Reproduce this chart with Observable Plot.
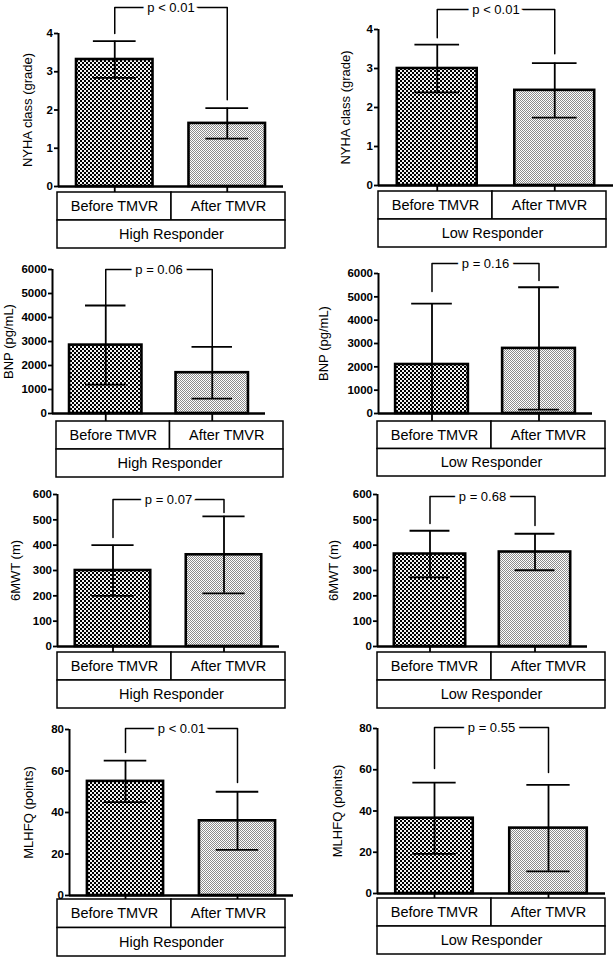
<!DOCTYPE html>
<html>
<head>
<meta charset="utf-8">
<script src="https://cdn.jsdelivr.net/npm/d3@7"></script>
<script src="https://cdn.jsdelivr.net/npm/@observablehq/plot@0.6"></script>
<style>
  html, body { margin: 0; padding: 0; background: white; }
  #root { position: relative; width: 614px; height: 959px; overflow: hidden; font-family: "Liberation Sans", Arial, sans-serif; }
</style>
</head>
<body>
<svg width="0" height="0" style="position:absolute">
  <defs>
    <pattern id="patBefore" patternUnits="userSpaceOnUse" width="4" height="4">
      <rect x="0" y="0" width="4" height="4" fill="#f4f4f4"></rect>
      <rect x="0" y="0" width="2" height="2" fill="#000"></rect>
      <rect x="2" y="2" width="2" height="2" fill="#000"></rect>
    </pattern>
    <pattern id="patAfter" patternUnits="userSpaceOnUse" width="2" height="2">
      <rect x="0" y="0" width="2" height="2" fill="#fff"></rect>
      <rect x="0" y="0" width="1" height="1" fill="#8c8c8c"></rect>
      <rect x="1" y="1" width="1" height="1" fill="#8c8c8c"></rect>
    </pattern>
  </defs>
</svg>
<div id="root"></div>
<script>
// ---------------- data ----------------
const phases = ["Before TMVR", "After TMVR"];
const groups = ["High Responder", "Low Responder"];
const measures = ["NYHA class (grade)", "BNP (pg/mL)", "6MWT (m)", "MLHFQ (points)"];
const yTicks = [
  [0, 1, 2, 3, 4],
  [0, 1000, 2000, 3000, 4000, 5000, 6000],
  [0, 100, 200, 300, 400, 500, 600],
  [0, 20, 40, 60, 80]
];
const meanHigh = [[3.32, 1.65], [2850, 1700], [300, 362], [55, 36]];
const sdHigh   = [[0.48, 0.40], [1650, 1080], [100, 152], [10, 14]];
const meanLow  = [[3.0, 2.44], [2100, 2790], [365, 373], [36.5, 31.7]];
const sdLow    = [[0.61, 0.70], [2610, 2620], [92, 72], [17.3, 21]];
const pHigh = ["p < 0.01", "p = 0.06", "p = 0.07", "p < 0.01"];
const pLow  = ["p < 0.01", "p = 0.16", "p = 0.68", "p = 0.55"];
// bracket: [top, left leg end, right leg end] in data units
const bracketHigh = [[4.68, 4.0, 2.27], [6000, 4500, 2790], [580, 430, 529], [80.5, 68.9, 54.5]];
const bracketLow  = [[4.51, 3.79, 3.38], [6430, 5230, 5700], [592, 486, 478], [80.5, 60.6, 58.7]];

// ---------------- layout (pixels) ----------------
const colLeft = [0, 300];
const colWidth = [300, 314];
const rowTop = [0, 250, 480, 712];
const layout = [
  [ {axisX:58, right:283, yTop:33,  y0:186, tTop:192, tBot:248, tLeft:57, tRight:285, labelOff:31},
    {axisX:378, right:613, yTop:29, y0:185, tTop:191, tBot:247, tLeft:378, tRight:606, labelOff:33} ],
  [ {axisX:52, right:265, yTop:269, y0:413, tTop:421, tBot:477, tLeft:56, tRight:283, labelOff:44},
    {axisX:378, right:592, yTop:273, y0:413, tTop:421, tBot:476, tLeft:377, tRight:605, labelOff:55} ],
  [ {axisX:57, right:279, yTop:494, y0:646, tTop:652, tBot:708, tLeft:57, tRight:285, labelOff:42},
    {axisX:377, right:587, yTop:494, y0:646, tTop:652, tBot:708, tLeft:377, tRight:605, labelOff:44} ],
  [ {axisX:69, right:293, yTop:729, y0:895, tTop:899, tBot:956, tLeft:57, tRight:285, labelOff:41},
    {axisX:377, right:605, yTop:728, y0:893, tTop:898, tBot:954, tLeft:377, tRight:605, labelOff:40} ]
];

const FONT = '"Liberation Sans", Arial, Helvetica, sans-serif';
const root = document.getElementById("root");
const patterns = ["url(#patBefore)", "url(#patAfter)"];
const BAR_HALF = 0.34, CAP_HALF = 0.19;

function place(svg, left, top) {
  svg.style.position = "absolute";
  svg.style.left = left + "px";
  svg.style.top = top + "px";
  svg.style.background = "transparent";
  svg.style.overflow = "visible";
  svg.style.fontFamily = FONT;
  svg.style.maxWidth = "none";
  root.appendChild(svg);
}

for (let r = 0; r < 4; r++) {
  for (let c = 0; c < 2; c++) {
    const L = layout[r][c];
    const means = (c === 0 ? meanHigh : meanLow)[r];
    const sds = (c === 0 ? sdHigh : sdLow)[r];
    const pText = (c === 0 ? pHigh : pLow)[r];
    const br = (c === 0 ? bracketHigh : bracketLow)[r];
    const ticks = yTicks[r];
    const yMax = ticks[ticks.length - 1];

    const rows = phases.map((ph, i) => ({
      phase: ph, i, cx: i + 0.5,
      mean: means[i], hi: means[i] + sds[i], lo: means[i] - sds[i]
    }));

    const top = rowTop[r];
    const tickLen = L.tTop - L.y0;
    const mBottom = tickLen;
    const width = colWidth[c];
    const height = L.y0 - top + mBottom;

    const marks = [];
    // bars
    rows.forEach((d, i) => {
      marks.push(Plot.rectY([d], {
        x1: d => d.cx - BAR_HALF, x2: d => d.cx + BAR_HALF, y1: 0, y2: "mean",
        fill: patterns[i], stroke: "black", strokeWidth: 2.6
      }));
    });
    // error bars
    marks.push(Plot.ruleX(rows, {x: "cx", y1: d => Math.max(0, d.lo), y2: "hi", stroke: "black", strokeWidth: 1.8}));
    marks.push(Plot.ruleY(rows, {y: "hi", x1: d => d.cx - CAP_HALF, x2: d => d.cx + CAP_HALF, stroke: "black", strokeWidth: 1.8}));
    marks.push(Plot.ruleY(rows.filter(d => d.lo >= 0), {y: "lo", x1: d => d.cx - CAP_HALF, x2: d => d.cx + CAP_HALF, stroke: "black", strokeWidth: 1.8}));
    // axes
    marks.push(Plot.ruleX([0], {y1: 0, y2: yMax, stroke: "black", strokeWidth: 2}));
    marks.push(Plot.ruleY([0], {stroke: "black", strokeWidth: 2.6}));
    marks.push(Plot.axisY({ticks, tickSize: 4, tickPadding: 1.5, tickFormat: d => String(d),
      fontSize: 11.5, fontWeight: "bold", strokeWidth: 1.8, label: null}));
    marks.push(Plot.axisX({ticks: rows.map(d => d.cx), tickSize: tickLen, tickFormat: () => "",
      strokeWidth: 1.8, label: null}));
    // y label
    marks.push(Plot.text([measures[r]], {text: d => d, frameAnchor: "left", dx: -L.labelOff,
      rotate: -90, textAnchor: "middle", lineAnchor: "middle", fontSize: 13, fill: "black"}));
    // significance bracket
    const bracket = [
      {x: rows[0].cx, y: br[1]}, {x: rows[0].cx, y: br[0]},
      {x: rows[1].cx, y: br[0]}, {x: rows[1].cx, y: br[2]}
    ];
    marks.push(Plot.line(bracket, {x: "x", y: "y", stroke: "black", strokeWidth: 1.5}));
    marks.push(Plot.text([pText], {text: d => d, x: 1, y: br[0], fontSize: 13, fill: "black",
      stroke: "white", strokeWidth: 9}));

    const chart = Plot.plot({
      width, height,
      marginLeft: L.axisX - colLeft[c],
      marginRight: colLeft[c] + width - L.right,
      marginTop: L.yTop - top,
      marginBottom: mBottom,
      x: {type: "linear", domain: [0, 2]},
      y: {type: "linear", domain: [0, yMax]},
      marks
    });
    place(chart, colLeft[c], top);

    // category table below the axis
    const cells = [
      {x1: 0, x2: 1, y1: 0, y2: 1, text: phases[0], tx: 0.5, ty: 0.5},
      {x1: 1, x2: 2, y1: 0, y2: 1, text: phases[1], tx: 1.5, ty: 0.5},
      {x1: 0, x2: 2, y1: 1, y2: 2, text: groups[c], tx: 1, ty: 1.5}
    ];
    const tTopSvg = L.tTop - 2;
    const tHeight = L.tBot - L.tTop + 4;
    const table = Plot.plot({
      width, height: tHeight,
      marginLeft: L.tLeft - colLeft[c],
      marginRight: colLeft[c] + width - L.tRight,
      marginTop: 2, marginBottom: 2,
      x: {type: "linear", domain: [0, 2], axis: null},
      y: {type: "linear", domain: [0, 2], reverse: true, axis: null},
      marks: [
        Plot.rect(cells, {x1: "x1", x2: "x2", y1: "y1", y2: "y2", fill: "white", stroke: "black", strokeWidth: 1.5}),
        Plot.text(cells, {x: "tx", y: "ty", text: "text", fontSize: 14.5, fill: "black"})
      ]
    });
    place(table, colLeft[c], tTopSvg);
  }
}
</script>
</body>
</html>
